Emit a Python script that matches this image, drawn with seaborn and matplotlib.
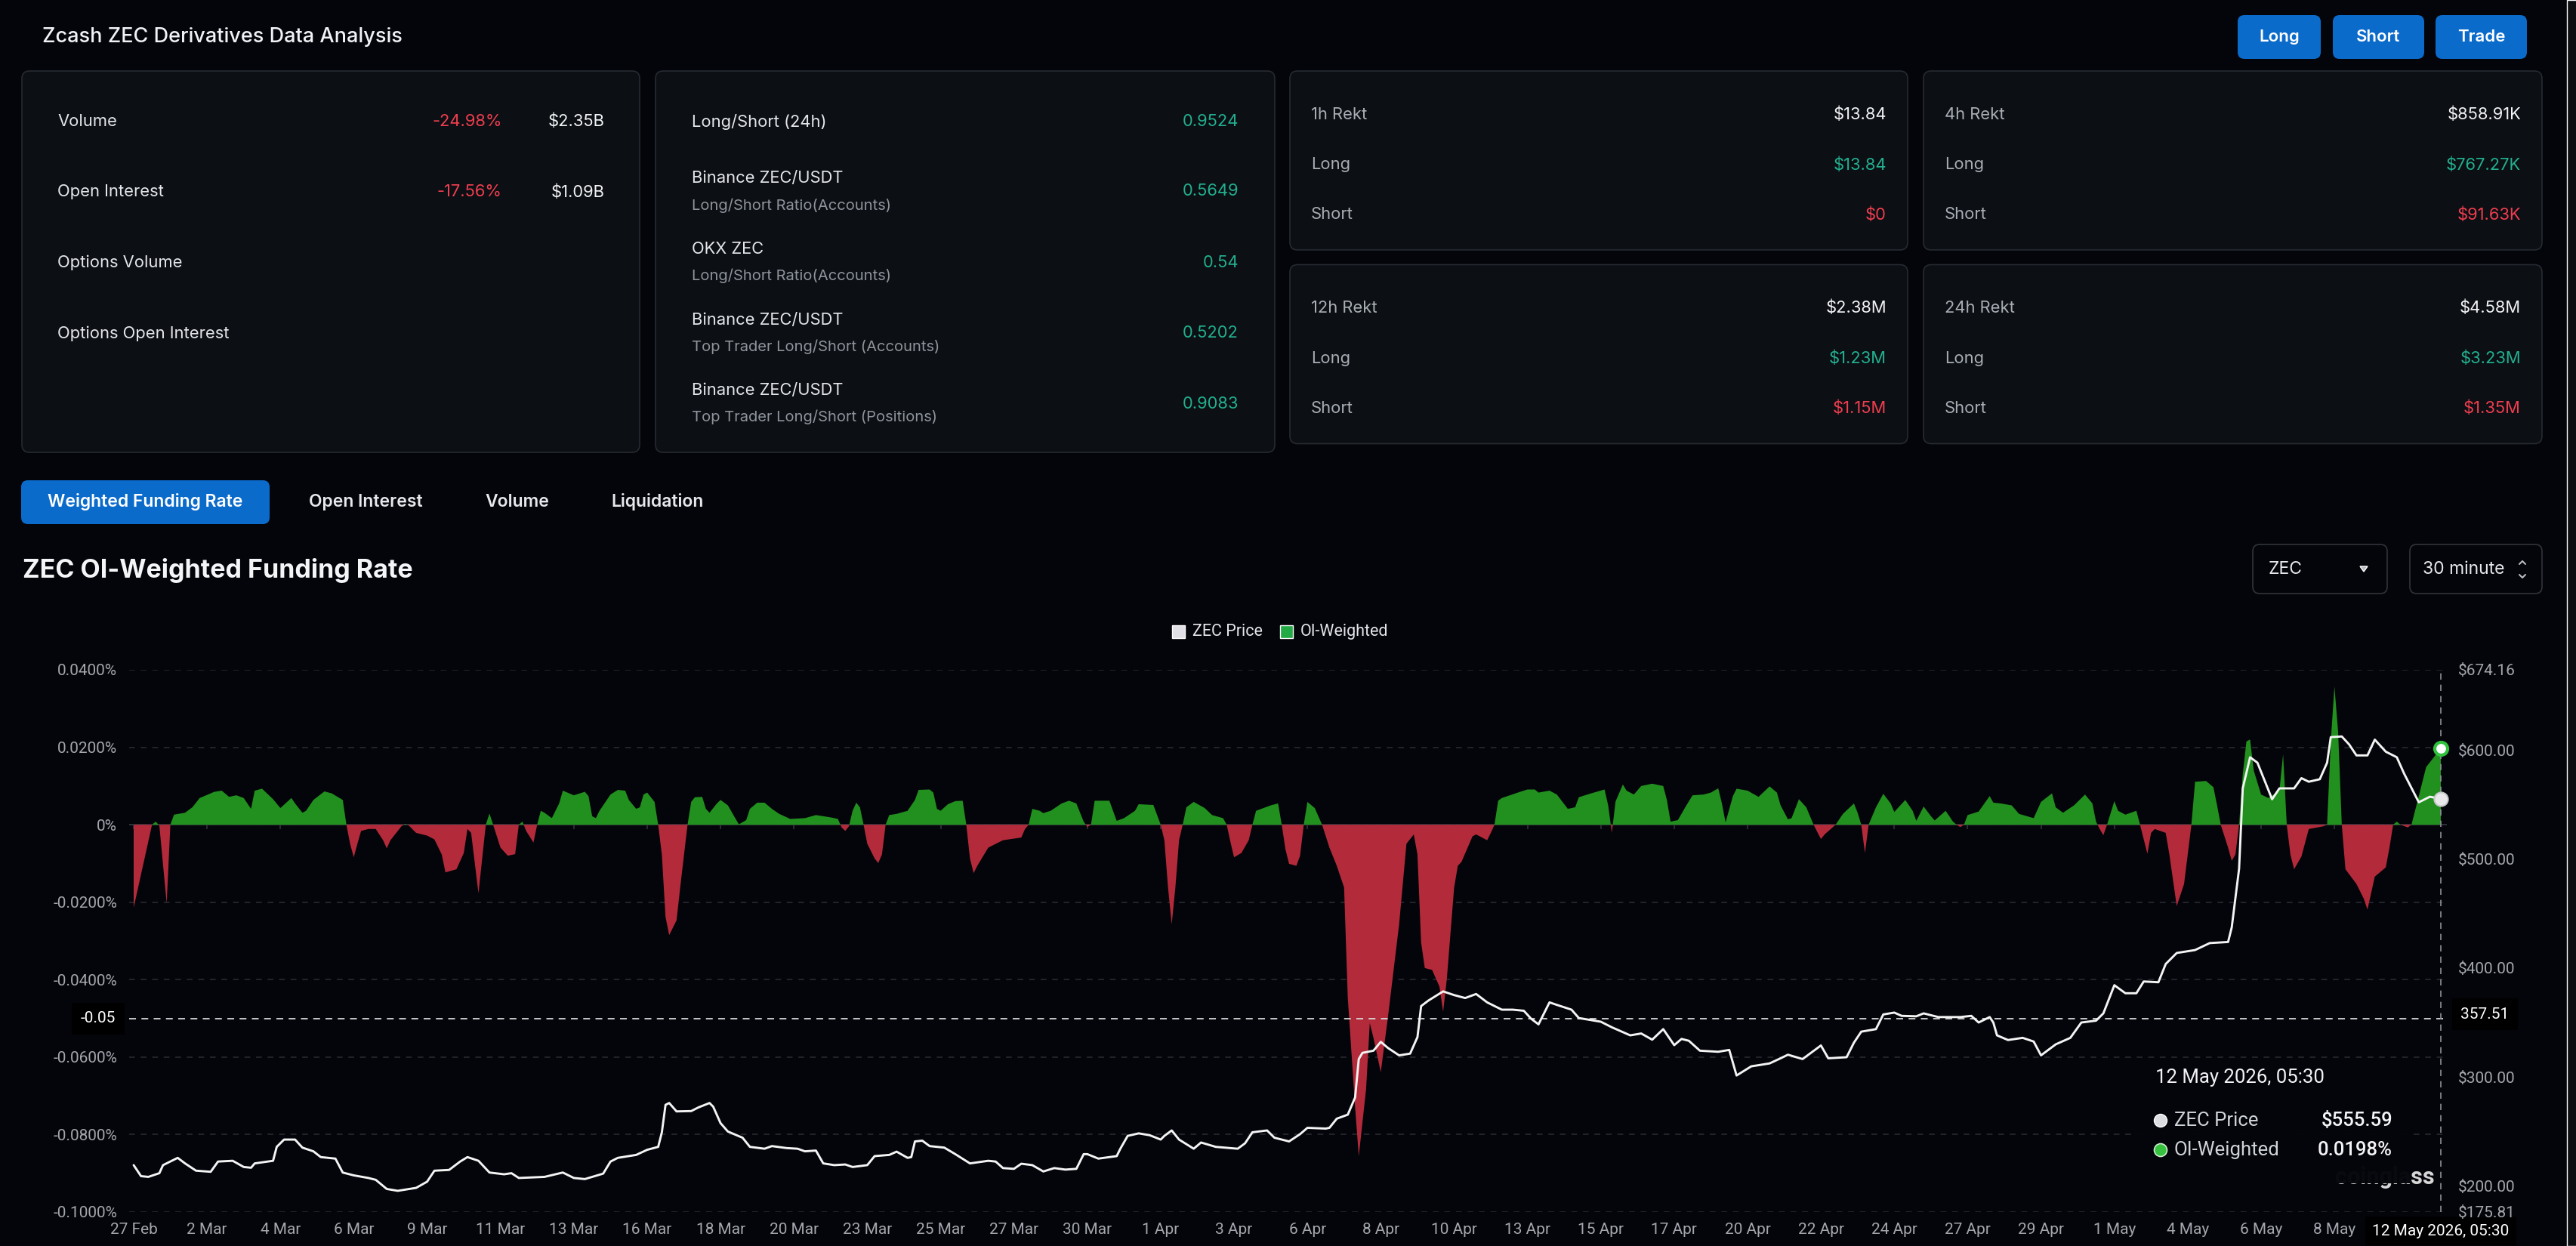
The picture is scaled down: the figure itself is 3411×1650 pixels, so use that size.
import numpy as np
import pandas as pd
import seaborn as sns
import matplotlib
matplotlib.use("Agg")
import matplotlib.pyplot as plt
import matplotlib.transforms as mtransforms
from matplotlib.patches import FancyBboxPatch, Rectangle, Circle

# ------------------------------------------------------------------ data
x_labels = ["27 Feb", "2 Mar", "4 Mar", "6 Mar", "9 Mar", "11 Mar", "13 Mar", "16 Mar",
            "18 Mar", "20 Mar", "23 Mar", "25 Mar", "27 Mar", "30 Mar", "1 Apr", "3 Apr",
            "6 Apr", "8 Apr", "10 Apr", "13 Apr", "15 Apr", "17 Apr", "20 Apr", "22 Apr",
            "24 Apr", "27 Apr", "29 Apr", "1 May", "4 May", "6 May", "8 May"]
label_step = 20          # category slots between two date labels
last_label = "12 May 2026, 05:30"

fr_idx = [0, 5, 6, 7, 9, 10, 11, 14, 16, 18, 22, 24, 26, 28, 30, 32, 33, 35, 38, 40, 43, 44, 46, 47,
          49, 52, 54, 57, 58, 59, 60, 61, 62, 64, 66, 68, 69, 70, 73, 74, 75, 77, 80, 82, 84, 85,
          88, 90, 91, 92, 94, 96, 97, 98, 100, 102, 104, 105, 106, 107, 109, 110, 111, 112, 114,
          116, 117, 120, 123, 124, 125, 126, 127, 130, 132, 134, 135, 137, 138, 139, 140, 142,
          143, 144, 145, 146, 148, 149, 151, 152, 153, 155, 156, 157, 159, 160, 162, 164, 165,
          167, 168, 170, 172, 174, 176, 179, 183, 186, 190, 192, 193, 194, 195, 196, 197, 198,
          199, 200, 202, 203, 204, 205, 206, 208, 211, 213, 214, 217, 218, 219, 220, 222, 224,
          226, 227, 228, 229, 230, 233, 237, 242, 243, 244, 245, 247, 248, 250, 253, 255, 257,
          259, 260, 261, 262, 266, 267, 268, 270, 273, 274, 278, 280, 281, 282, 283, 284, 285,
          286, 287, 289, 292, 294, 297, 298, 299, 300, 302, 304, 305, 306, 308, 310, 312, 313,
          314, 315, 317, 318, 319, 320, 322, 324, 326, 328, 330, 331, 333, 334, 336, 337, 338,
          340, 342, 345, 347, 349, 350, 351, 352, 354, 356, 357, 358, 360, 361, 362, 365, 366,
          369, 370, 371, 372, 373, 378, 380, 382, 383, 386, 388, 391, 393, 394, 397, 401, 402,
          403, 404, 406, 407, 409, 411, 414, 417, 418, 419, 421, 423, 425, 428, 430, 432, 433,
          434, 436, 437, 440, 443, 446, 448, 449, 451, 452, 454, 456, 458, 460, 461, 464, 466,
          469, 470, 471, 472, 473, 475, 477, 479, 480, 483, 485, 486, 488, 490, 491, 494, 496,
          497, 498, 499, 500, 503, 506, 507, 509, 512, 514, 518, 520, 523, 524, 526, 529, 532,
          534, 535, 536, 537, 538, 540, 541, 543, 546, 547, 549, 550, 551, 554, 555, 557, 559,
          561, 562, 565, 567, 568, 569, 571, 572, 573, 574, 575, 576, 577, 578, 580, 582, 585,
          586, 587, 588, 589, 591, 593, 597, 598, 599, 600, 601, 602, 603, 606, 608, 609, 611,
          614, 615, 616, 617, 618, 620, 621, 623, 625, 627, 629]
fr_val = [-0.0214, 0.0, 0.0008, -0.0002, -0.0203, 0.0, 0.0026, 0.0031, 0.0045, 0.0069, 0.0085,
          0.0088, 0.0072, 0.0076, 0.0069, 0.0041, 0.0088, 0.0093, 0.0066, 0.0043, 0.0069, 0.0055,
          0.0031, 0.0036, 0.0064, 0.0086, 0.0081, 0.0064, 0.0, -0.0049, -0.0084, -0.0049, -0.0016,
          -0.0011, -0.0011, -0.0040, -0.0061, -0.0040, -0.0004, 0.0002, -0.0002, -0.0021, -0.0028,
          -0.0038, -0.0077, -0.0123, -0.0115, -0.0073, -0.0011, -0.0021, -0.0177, 0.0, 0.0029, 0.0,
          -0.0059, -0.0080, -0.0076, 0.0, 0.0008, -0.0016, -0.0046, 0.0, 0.0036, 0.0031, 0.0017,
          0.0055, 0.0088, 0.0076, 0.0085, 0.0074, 0.0022, 0.0017, 0.0036, 0.0078, 0.0090, 0.0088,
          0.0064, 0.0041, 0.0045, 0.0078, 0.0083, 0.0059, 0.0, -0.0077, -0.0238, -0.0285, -0.0247,
          -0.0162, 0.0, 0.0059, 0.0071, 0.0072, 0.0041, 0.0031, 0.0055, 0.0064, 0.0050, 0.0017,
          0.0001, 0.0012, 0.0041, 0.0057, 0.0057, 0.0041, 0.0028, 0.0015, 0.0017, 0.0025, 0.0019,
          0.0015, -0.0007, -0.0016, -0.0004, 0.0036, 0.0057, 0.0045, 0.0, -0.0049, -0.0087,
          -0.0099, -0.0077, 0.0, 0.0025, 0.0028, 0.0036, 0.0064, 0.0090, 0.0091, 0.0083, 0.0041,
          0.0036, 0.0053, 0.0061, 0.0062, 0.0, -0.0087, -0.0125, -0.0106, -0.0059, -0.0040,
          -0.0033, -0.0011, 0.0, 0.0041, 0.0036, 0.0030, 0.0036, 0.0055, 0.0062, 0.0055, 0.0008,
          -0.0006, 0.0, 0.0062, 0.0062, 0.0036, 0.0010, 0.0017, 0.0036, 0.0053, 0.0051, 0.0,
          -0.0040, -0.0162, -0.0257, -0.0162, -0.0040, 0.0, 0.0045, 0.0059, 0.0043, 0.0025,
          0.0017, 0.0, -0.0044, -0.0084, -0.0073, -0.0040, 0.0, 0.0036, 0.0043, 0.0050, 0.0055,
          0.0, -0.0063, -0.0101, -0.0106, -0.0080, 0.0, 0.0059, 0.0043, 0.0, -0.0059, -0.0106,
          -0.0162, -0.0446, -0.0729, -0.0856, -0.0682, -0.0512, -0.0550, -0.0639, -0.0493,
          -0.0257, -0.0049, -0.0025, -0.0077, -0.0304, -0.0370, -0.0375, -0.0418, -0.0483,
          -0.0399, -0.0162, -0.0106, -0.0096, -0.0030, -0.0025, -0.0040, -0.0021, 0.0, 0.0062,
          0.0069, 0.0085, 0.0091, 0.0091, 0.0083, 0.0088, 0.0078, 0.0041, 0.0045, 0.0071, 0.0080,
          0.0091, 0.0050, -0.0021, 0.0060, 0.0104, 0.0088, 0.0078, 0.0100, 0.0106, 0.0100, 0.0064,
          0.0008, 0.0012, 0.0045, 0.0076, 0.0078, 0.0083, 0.0094, 0.0055, 0.0006, 0.0074, 0.0093,
          0.0088, 0.0072, 0.0099, 0.0083, 0.0050, 0.0014, 0.0017, 0.0066, 0.0045, 0.0, -0.0037,
          -0.0025, 0.0, 0.0028, 0.0055, 0.0031, 0.0, -0.0073, 0.0, 0.0045, 0.0080, 0.0055, 0.0033,
          0.0064, 0.0036, 0.0010, 0.0047, 0.0022, 0.0011, 0.0036, 0.0008, 0.0, -0.0006, 0.0,
          0.0025, 0.0034, 0.0074, 0.0057, 0.0055, 0.0050, 0.0028, 0.0017, 0.0059, 0.0081, 0.0045,
          0.0031, 0.0050, 0.0078, 0.0055, 0.0008, -0.0011, -0.0027, 0.0, 0.0061, 0.0036, 0.0026,
          0.0036, 0.0, -0.0075, -0.0021, -0.0011, -0.0021, -0.0077, -0.0210, -0.0153, 0.0, 0.0111,
          0.0113, 0.0097, 0.0050, 0.0, -0.0059, -0.0093, -0.0077, 0.0, 0.0130, 0.0215, 0.0220,
          0.0140, 0.0078, 0.0069, 0.0088, 0.0182, 0.0, -0.0077, -0.0115, -0.0082, -0.0011,
          -0.0004, 0.0, 0.0215, 0.0357, 0.0240, 0.0, -0.0115, -0.0153, -0.0191, -0.0219, -0.0134,
          -0.0110, -0.0059, 0.0, 0.0008, 0.0, -0.0007, 0.0, 0.0074, 0.0149, 0.0173, 0.0198]

px_idx = [0, 2, 4, 7, 8, 12, 14, 17, 21, 23, 27, 30, 32, 33, 38, 39, 41, 44, 46, 49, 51, 55, 57,
          60, 64, 66, 69, 72, 77, 80, 82, 86, 89, 91, 94, 97, 101, 103, 105, 112, 117, 120, 123,
          128, 130, 132, 137, 140, 143, 144, 145, 146, 148, 152, 154, 157, 158, 160, 162, 166,
          168, 172, 174, 178, 181, 183, 186, 188, 191, 194, 196, 200, 202, 206, 208, 211, 212,
          213, 215, 217, 221, 224, 228, 233, 235, 237, 240, 242, 245, 248, 251, 254, 257, 259,
          260, 263, 268, 269, 271, 274, 277, 280, 281, 283, 285, 289, 291, 295, 301, 303, 305,
          309, 311, 315, 318, 320, 325, 326, 328, 331, 333, 334, 335, 338, 340, 342, 345, 348,
          350, 351, 353, 357, 360, 363, 366, 369, 373, 376, 379, 381, 383, 386, 388, 392, 394,
          400, 403, 408, 411, 414, 417, 420, 422, 424, 427, 432, 435, 437, 441, 446, 449, 451,
          455, 460, 462, 467, 469, 471, 475, 477, 480, 482, 486, 488, 492, 498, 501, 503, 506,
          507, 508, 511, 515, 518, 520, 524, 528, 531, 535, 537, 540, 543, 546, 548, 552, 554,
          557, 562, 566, 571, 572, 574, 575, 577, 579, 581, 583, 585, 589, 591, 593, 596, 598,
          599, 602, 604, 606, 609, 611, 614, 617, 619, 623, 626, 629]
px_val = [218.9, 208.8, 208.1, 211.5, 218.9, 225.6, 220.5, 213.8, 212.8, 222.2, 222.9, 217.2,
          216.5, 220.5, 222.9, 235.7, 242.4, 242.4, 235.0, 231.6, 226.3, 224.9, 212.1, 209.5,
          207.1, 205.4, 197.0, 195.3, 198.0, 203.7, 213.8, 214.5, 222.2, 226.3, 222.9, 212.1,
          210.5, 211.5, 207.1, 208.1, 212.1, 207.1, 206.1, 211.1, 222.2, 225.6, 228.3, 233.0,
          235.7, 249.1, 274.3, 276.0, 268.3, 268.6, 272.0, 276.0, 272.6, 257.5, 249.8, 244.1,
          235.7, 234.0, 236.4, 234.6, 234.0, 231.6, 232.3, 220.5, 218.9, 219.5, 217.2, 218.9,
          227.2, 228.3, 231.3, 225.6, 226.3, 240.7, 241.4, 236.4, 235.0, 229.0, 220.5, 222.9,
          222.2, 216.2, 215.5, 220.2, 218.9, 213.1, 216.2, 214.8, 215.5, 229.0, 229.0, 224.9,
          227.2, 234.0, 245.8, 248.1, 246.4, 242.4, 245.8, 250.8, 242.4, 234.0, 239.7, 235.7,
          234.0, 239.0, 249.1, 250.8, 244.1, 240.7, 247.4, 253.2, 252.5, 253.2, 261.6, 265.3,
          281.1, 316.4, 322.1, 324.1, 332.2, 326.5, 319.8, 321.4, 336.6, 365.1, 370.2, 378.6,
          375.2, 372.5, 376.2, 368.5, 361.8, 361.8, 360.8, 353.4, 348.3, 368.5, 366.2, 361.8,
          354.1, 350.7, 345.6, 338.2, 339.9, 334.2, 343.9, 329.2, 334.9, 333.2, 324.1, 323.1,
          324.8, 301.3, 309.7, 312.4, 317.1, 320.4, 316.4, 328.9, 317.1, 318.1, 331.5, 341.6,
          343.9, 357.4, 359.1, 356.1, 355.7, 358.4, 355.0, 355.0, 356.1, 350.0, 355.0, 350.0,
          338.2, 333.9, 335.9, 332.5, 319.8, 329.9, 335.9, 350.0, 351.7, 358.4, 384.3, 376.9,
          376.9, 387.7, 387.0, 403.8, 413.9, 416.6, 423.0, 424.0, 437.5, 491.3, 565.2, 593.8,
          588.8, 572.0, 555.2, 565.2, 565.2, 574.6, 571.3, 573.6, 588.8, 612.3, 612.9, 605.6,
          595.5, 595.5, 610.0, 598.9, 593.8, 578.7, 552.4, 557.5, 555.59]

rate_ticks = [0.04, 0.02, 0.0, -0.02, -0.04, -0.06, -0.08, -0.10]
price_min, price_max = 175.81, 674.16
price_ticks = [674.16, 600.0, 500.0, 400.0, 300.0, 200.0, 175.81]
cross_rate, cross_rate_label = -0.05, "-0.05"
cross_price = 357.51
tip_price, tip_rate = "$555.59", "0.0198%"

page_title = "Zcash ZEC Derivatives Data Analysis"
top_buttons = ["Long", "Short", "Trade"]
market_labels = ["Volume", "Open Interest", "Options Volume", "Options Open Interest"]
market_changes = ["-24.98%", "-17.56%", "", ""]
market_values = ["$2.35B", "$1.09B", "", ""]
ratio_titles = ["Long/Short (24h)", "Binance ZEC/USDT", "OKX ZEC", "Binance ZEC/USDT", "Binance ZEC/USDT"]
ratio_subs = ["", "Long/Short Ratio(Accounts)", "Long/Short Ratio(Accounts)",
              "Top Trader Long/Short (Accounts)", "Top Trader Long/Short (Positions)"]
ratio_values = ["0.9524", "0.5649", "0.54", "0.5202", "0.9083"]
rekt_titles = ["1h Rekt", "4h Rekt", "12h Rekt", "24h Rekt"]
rekt_total = ["$13.84", "$858.91K", "$2.38M", "$4.58M"]
rekt_long = ["$13.84", "$767.27K", "$1.23M", "$3.23M"]
rekt_short = ["$0", "$91.63K", "$1.15M", "$1.35M"]
tabs = ["Weighted Funding Rate", "Open Interest", "Volume", "Liquidation"]
chart_title = "ZEC OI-Weighted Funding Rate"

# ------------------------------------------------------------------ style
BG = "#04050a"
CARD = "#0c0f14"
EDGE = "#262a31"
BLUE = "#0b6bcb"
RED = "#ef3e4f"
TEAL = "#22b08f"
GREEN = "#22901f"
DRED = "#b32b3b"
AXC = "#a3a6ad"

sns.set_theme(style="dark")
plt.rcParams["font.family"] = ["Roboto", "DejaVu Sans"]
plt.rcParams["axes.facecolor"] = "none"
plt.rcParams["figure.facecolor"] = BG
UI = ["Inter", "DejaVu Sans"]
RB = ["Roboto", "DejaVu Sans"]

W, H = 3412, 1650
fig = plt.figure(figsize=(W / 100, H / 100), dpi=100)
fig.patch.set_facecolor(BG)

bg = fig.add_axes([0, 0, 1, 1], zorder=0)
bg.set_xlim(0, W)
bg.set_ylim(H, 0)
bg.axis("off")


def rbox(axp, x0, y0, x1, y1, fc, ec="none", r=10, lw=1.2, z=1):
    axp.add_patch(FancyBboxPatch((x0, y0), x1 - x0, y1 - y0,
                                 boxstyle=f"round,pad=0,rounding_size={r}",
                                 fc=fc, ec=ec, lw=lw, zorder=z))


def txt(axp, x, y, s, size, color="#e6e8ec", ha="left", weight="normal", fam=UI, z=3):
    axp.text(x, y, s, fontsize=size, color=color, ha=ha, va="center",
             fontweight=weight, family=fam, zorder=z)


CS = 15.8   # card text size
# header
txt(bg, 56, 49, page_title, 19.5, "#f0f2f5", weight="medium")
btn_x = [(2963, 3073), (3089, 3210), (3225, 3346)]
for (a, b), s in zip(btn_x, top_buttons):
    rbox(bg, a, 20, b, 78, BLUE, r=9)
    txt(bg, (a + b) / 2, 49, s, 16, "white", ha="center", weight="semibold")

# card 1
rbox(bg, 29, 94, 847, 599, CARD, EDGE)
for y, l, c, v in zip([161, 254.5, 348, 442], market_labels, market_changes, market_values):
    txt(bg, 76, y, l, CS, "#e4e6ea")
    txt(bg, 665, y, c, CS, RED, ha="right")
    txt(bg, 801, y, v, CS, "#f2f3f5", ha="right")

# card 2
rbox(bg, 868, 94, 1688, 599, CARD, EDGE)
t_y = [161, 236.5, 330, 424, 517]
v_y = [161, 253, 347.5, 441, 534.6]
for ty, vy, t, s, v in zip(t_y, v_y, ratio_titles, ratio_subs, ratio_values):
    txt(bg, 916, ty, t, CS, "#e4e6ea")
    if s:
        txt(bg, 916, ty + 35.5, s, 14.5, "#8f949c")
    txt(bg, 1640, vy, v, CS, TEAL, ha="right")

# rekt cards
rekt_boxes = [(1708, 94, 2526, 331), (2547, 94, 3366, 331),
              (1708, 350.5, 2526, 587.5), (2547, 350.5, 3366, 587.5)]
for (x0, y0, x1, y1), t, a, l, s in zip(rekt_boxes, rekt_titles, rekt_total, rekt_long, rekt_short):
    rbox(bg, x0, y0, x1, y1, CARD, EDGE)
    txt(bg, x0 + 28, y0 + 57.5, t, CS, "#a9aeb5")
    txt(bg, x1 - 28, y0 + 57.5, a, CS, "#f2f3f5", ha="right")
    txt(bg, x0 + 28, y0 + 124.5, "Long", CS, "#a9aeb5")
    txt(bg, x1 - 28, y0 + 124.5, l, CS, TEAL, ha="right")
    txt(bg, x0 + 28, y0 + 190.5, "Short", CS, "#a9aeb5")
    txt(bg, x1 - 28, y0 + 190.5, s, CS, RED, ha="right")

# tabs
rbox(bg, 28, 636, 357, 694, BLUE, r=9)
for cx, s in zip([192, 484.5, 685, 870.5], tabs):
    txt(bg, cx, 665, s, 16.5, "white" if s == tabs[0] else "#e6e8ec", ha="center", weight="semibold")

txt(bg, 30, 755, chart_title, 24.5, "#f4f5f7", weight="bold")

# selectors
rbox(bg, 2983, 721, 3161, 786, BG, "#30343b", r=9)
txt(bg, 3004, 754, "ZEC", 16.5, "#e6e8ec")
bg.add_patch(plt.Polygon([[3125, 750], [3135, 750], [3130, 757]], fc="#b8bcc2", zorder=3))
rbox(bg, 3191, 721, 3366, 786, BG, "#30343b", r=9)
txt(bg, 3208, 754, "30 minute", 16.5, "#e6e8ec")
bg.plot([3336, 3340, 3344], [747, 743, 747], color="#b8bcc2", lw=1.5, zorder=3)
bg.plot([3336, 3340, 3344], [761, 765, 761], color="#b8bcc2", lw=1.5, zorder=3)

# legend
bg.add_patch(Rectangle((1552, 828), 17, 17, fc="#e0e0e6", zorder=3))
txt(bg, 1579, 836.5, "ZEC Price", 15.5, "#e6e6ea", fam=RB)
bg.add_patch(Rectangle((1695, 828), 17, 17, fc="#22aa44", zorder=3))
txt(bg, 1722, 836.5, "OI-Weighted", 15.5, "#e6e6ea", fam=RB)

# scrollbar track
bg.add_patch(Rectangle((3399, 0), 13, H, fc="#0d0f13", zorder=1))

# ------------------------------------------------------------------ chart
AX_L, AX_R, AX_T, AX_B = 171, 3240, 887, 1605
ax = fig.add_axes([AX_L / W, 1 - AX_B / H, (AX_R - AX_L) / W, (AX_B - AX_T) / H], zorder=2)
ax.set_facecolor("none")
ax2 = ax.twinx()
ax2.set_facecolor("none")

fr_x = np.array(fr_idx, dtype=float)
fr_y = np.array(fr_val, dtype=float)
ax.fill_between(fr_x, fr_y, 0, where=fr_y >= 0, interpolate=True, color=GREEN, lw=0, zorder=2)
ax.fill_between(fr_x, fr_y, 0, where=fr_y <= 0, interpolate=True, color=DRED, lw=0, zorder=2)
ax.axhline(0, color="#30333a", lw=1.3, zorder=1)

price_df = pd.DataFrame({"slot": px_idx, "price": px_val})
sns.lineplot(data=price_df, x="slot", y="price", ax=ax2, color="#f4f4f4", linewidth=2.1,
             zorder=3, legend=False, solid_joinstyle="round", solid_capstyle="round")

n_last = fr_idx[-1]
step_px = (3232 - 177) / n_last
ax.set_xlim(-(177 - AX_L) / step_px, n_last + (AX_R - 3232) / step_px)
ax.set_ylim(-0.10, 0.04)
ax2.set_ylim(price_min, price_max)

tick_pos = [i * label_step for i in range(len(x_labels))]
ax.set_xticks(tick_pos)
ax.set_xticklabels(x_labels)
ax.tick_params(axis="x", length=0, pad=10, labelsize=15, labelcolor=AXC)
ax.vlines(tick_pos, 0, -0.0011, color="#30333a", lw=1.2, zorder=1)

ax.set_yticks(rate_ticks)
ax.set_yticklabels(["0%" if v == 0 else f"{v:.4f}%" for v in rate_ticks])
ax.tick_params(axis="y", length=0, pad=11.5, labelsize=15, labelcolor=AXC)
ax2.set_yticks(price_ticks)
ax2.set_yticklabels([f"${v:.2f}" for v in price_ticks])
ax2.tick_params(axis="y", length=0, pad=11, labelsize=15, labelcolor=AXC)
ax2.set_xlabel("")
ax2.set_ylabel("")
ax.set_xlabel("")
ax.set_ylabel("")

ax.grid(False)
ax2.grid(False)
for v in rate_ticks:
    ax.axhline(v, color="#2a2d34", lw=1.1, ls=(0, (5, 5)), zorder=0.5)
for a in (ax, ax2):
    for sp in a.spines.values():
        sp.set_visible(False)

# crosshair
ax.axhline(cross_rate, color="#d6d6d6", lw=1.3, ls=(0, (5, 4)), zorder=4)
ax.axvline(n_last, color="#8d9096", lw=1.2, ls=(0, (5, 4)), zorder=4)
bl_y = mtransforms.blended_transform_factory(ax.transAxes, ax.transData)
ax.text(-0.0058, cross_rate, cross_rate_label, transform=bl_y, ha="right", va="center",
        fontsize=15, color="white", zorder=6, clip_on=False,
        bbox=dict(fc="black", ec="none", boxstyle="square,pad=0.55"))
bl_y2 = mtransforms.blended_transform_factory(ax2.transAxes, ax2.transData)
ax2.text(1.006, cross_price, f"{cross_price:.2f}", transform=bl_y2, ha="left", va="center",
         fontsize=15, color="white", zorder=6, clip_on=False,
         bbox=dict(fc="black", ec="none", boxstyle="square,pad=0.55"))
bl_x = mtransforms.blended_transform_factory(ax.transData, ax.transAxes)
ax.text(n_last, -0.035, last_label, transform=bl_x, ha="center", va="center",
        fontsize=15, color="white", zorder=6, clip_on=False,
        bbox=dict(fc="black", ec="none", boxstyle="square,pad=0.45"))

ax.scatter([fr_idx[-1]], [fr_val[-1]], s=150, facecolor="white", edgecolor="#2fc23c",
           linewidth=3, zorder=6, clip_on=False)
ax2.scatter([px_idx[-1]], [px_val[-1]], s=170, facecolor="#e9e9ec", edgecolor="#c9c9cc",
            linewidth=1.5, zorder=6, clip_on=False)

# ------------------------------------------------------------------ tooltip overlay
ov = fig.add_axes([0, 0, 1, 1], zorder=10)
ov.set_xlim(0, W)
ov.set_ylim(H, 0)
ov.axis("off")
ov.patch.set_alpha(0)
ov.text(3224, 1559, "coinglass", fontsize=22, fontweight="bold", color="#d6d6d6",
        ha="right", va="center", zorder=1, family=RB)
ov.add_patch(Rectangle((2823, 1401), 370, 166, fc="#05060b", ec="none", alpha=0.98, zorder=2))
txt(ov, 2854, 1427, last_label, 18.5, "#f2f2f4", fam=RB, z=3)
ov.add_patch(Circle((2861, 1484), 8.5, fc="#dcdde0", zorder=3))
txt(ov, 2879, 1484, "ZEC Price", 18.5, "#cfd3da", fam=RB, z=3)
txt(ov, 3168, 1484, tip_price, 18.5, "#f4f4f6", ha="right", weight="medium", fam=RB, z=3)
ov.add_patch(Circle((2861, 1523), 8.5, fc="#36c23f", ec="#cfeed0", lw=1.2, zorder=3))
txt(ov, 2879, 1523, "OI-Weighted", 18.5, "#cfd3da", fam=RB, z=3)
txt(ov, 3168, 1523, tip_rate, 18.5, "#f4f4f6", ha="right", weight="medium", fam=RB, z=3)

fig.savefig("out.png", dpi=100, facecolor=BG)
